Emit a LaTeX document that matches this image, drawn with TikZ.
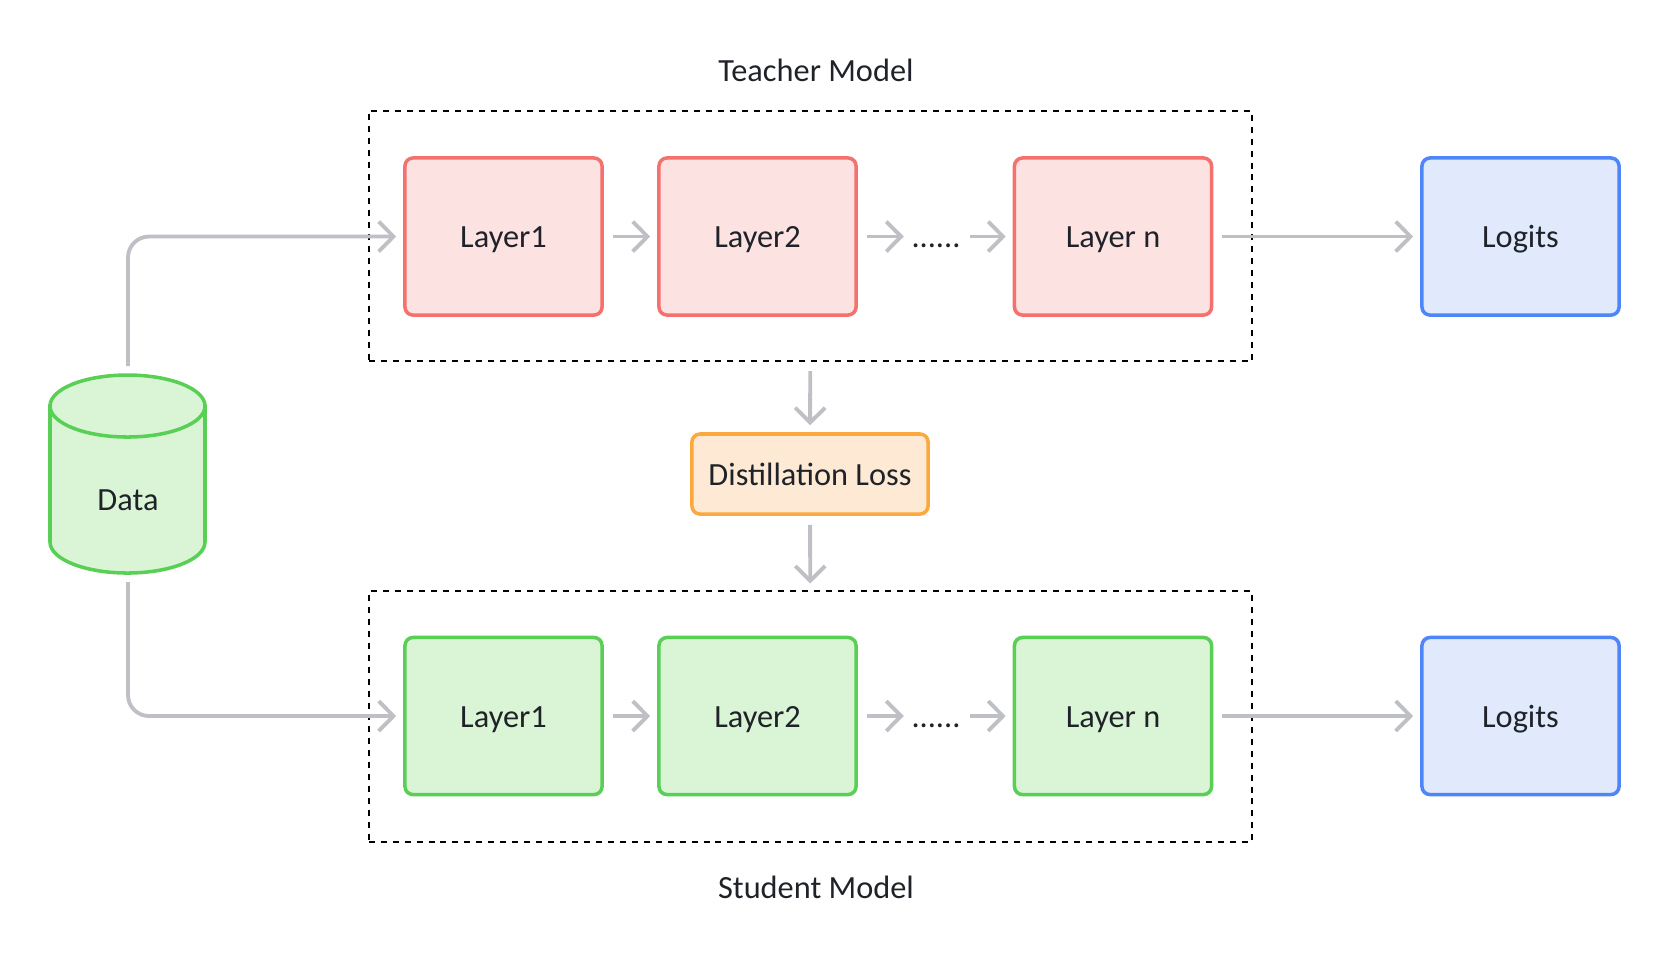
\documentclass[tikz,border=0pt]{standalone}
\usepackage{fontspec}
\setmainfont{Carlito}
\usetikzlibrary{arrows.meta}
\definecolor{ink}{HTML}{1F2329}
\definecolor{tline}{HTML}{F4716E}
\definecolor{tfill}{HTML}{FDE2E2}
\definecolor{sline}{HTML}{5ACF55}
\definecolor{sfill}{HTML}{DAF5D6}
\definecolor{oline}{HTML}{4F86F7}
\definecolor{ofill}{HTML}{E1E9FD}
\definecolor{lline}{HTML}{FBA83C}
\definecolor{lfill}{HTML}{FEEAD4}
\definecolor{wire}{HTML}{BEC0C5}
\begin{document}
\begin{tikzpicture}[x=0.01cm, y=-0.01cm, font=\fontsize{9.2}{11}\selectfont, text=ink]
    \tikzstyle{layer}=[draw, rounded corners=2.3pt, line width=1pt, minimum width=1.97cm, minimum height=1.57cm, text height=0.64em, text depth=0pt]
    \tikzstyle{teach}=[layer, draw=tline, fill=tfill]
    \tikzstyle{stud}=[layer, draw=sline, fill=sfill]
    \tikzstyle{logit}=[layer, draw=oline, fill=ofill]
    \tikzstyle{dots}=[inner sep=0pt, text height=0.64em, text depth=0pt]
    \tikzstyle{frame}=[draw=black, dash pattern=on 1.7pt off 1.7pt, line width=0.55pt, minimum width=8.83cm, minimum height=2.5cm]
    \tikzstyle{flow}=[draw=wire, line width=1.1pt, -{Straight Barb[length=4.2pt, width=8.5pt]}, shorten <=0.09cm, shorten >=0.07cm]

    \useasboundingbox (0,0) rectangle (1670,956);

    \node[frame] (teacher) at (810.5, 236) {};
    \node[frame] (student) at (810.5, 716.5) {};
    \node (teacher_lbl) at (816, 70) {Teacher Model};
    \node (student_lbl) at (816, 887) {Student Model};

    \node[teach] (t_1) at (503.5, 236.5) {Layer1};
    \node[teach] (t_2) at (757.5, 236.5) {Layer2};
    \node[dots] (t_dots) at (936, 236.5) {......};
    \node[teach] (t_n) at (1113, 236.5) {Layer n};
    \node[logit] (t_out) at (1520.5, 236.5) {Logits};

    \node[stud] (s_1) at (503.5, 716) {Layer1};
    \node[stud] (s_2) at (757.5, 716) {Layer2};
    \node[dots] (s_dots) at (936, 716) {......};
    \node[stud] (s_n) at (1113, 716) {Layer n};
    \node[logit] (s_out) at (1520.5, 716) {Logits};

    \node[draw=lline, fill=lfill, rounded corners=2.3pt, line width=1pt, minimum width=2.36cm, minimum height=0.8cm, text height=0.64em, text depth=0pt] (loss) at (810, 474) {Distillation Loss};

    \filldraw[draw=sline, fill=sfill, line width=1pt] (50,406) -- (50,542) arc[start angle=180, end angle=0, x radius=77.5, y radius=31] -- (205,406) -- cycle;
    \filldraw[draw=sline, fill=sfill, line width=1pt] (127.5,406) ellipse [x radius=77.5, y radius=31];
    \node (data) at (128, 500) {Data};
    \coordinate (data_top) at (128, 375);
    \coordinate (data_bot) at (128, 573);

    \draw[flow, rounded corners=0.21cm] (data_top) |- (t_1);
    \draw[flow, rounded corners=0.21cm] (data_bot) |- (s_1);

    \draw[flow] (t_1) -- (t_2);
    \draw[flow] (t_2) -- (t_dots);
    \draw[flow] (t_dots) -- (t_n);
    \draw[flow] (t_n) -- (t_out);
    \draw[flow] (s_1) -- (s_2);
    \draw[flow] (s_2) -- (s_dots);
    \draw[flow] (s_dots) -- (s_n);
    \draw[flow] (s_n) -- (s_out);

    \draw[flow] (teacher) -- (loss);
    \draw[flow] (loss) -- (student);
\end{tikzpicture}
\end{document}
